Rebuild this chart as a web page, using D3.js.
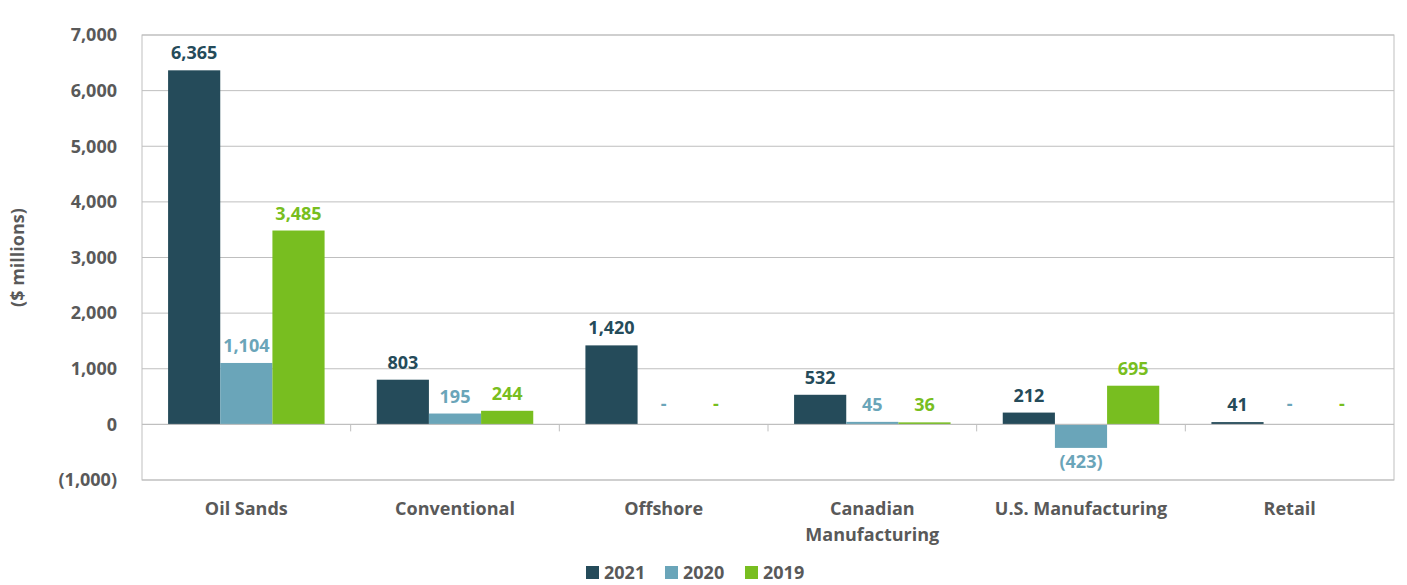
<!DOCTYPE html>
<html>
<head>
<meta charset="utf-8">
<script src="https://cdn.jsdelivr.net/npm/d3@7"></script>
<style>
  body { margin: 0; background: #fff; }
  svg text { font-family: "Open Sans", sans-serif; font-weight: 700; }
</style>
</head>
<body>
<div id="chart"></div>
<script>
const categories = ["Oil Sands", "Conventional", "Offshore", "Canadian Manufacturing", "U.S. Manufacturing", "Retail"];
const years = ["2021", "2020", "2019"];
const values2021 = [6365, 803, 1420, 532, 212, 41];
const values2020 = [1104, 195, 0, 45, -423, 0];
const values2019 = [3485, 244, 0, 36, 695, 0];
const yTicks = [-1000, 0, 1000, 2000, 3000, 4000, 5000, 6000, 7000];
const colors = ["#254b5a", "#6aa5b9", "#78be20"];

const width = 1407, height = 585;
const margin = { top: 35, right: 13, bottom: 105, left: 142 };
const innerW = width - margin.left - margin.right;
const innerH = height - margin.top - margin.bottom;

const seriesValues = [values2021, values2020, values2019];
const rows = categories.map((c, i) => ({
  cat: c,
  vals: years.map((y, j) => ({ year: y, v: seriesValues[j][i], color: colors[j] }))
}));

const svg = d3.select("#chart").append("svg")
  .attr("width", width)
  .attr("height", height);

const g = svg.append("g").attr("transform", `translate(${margin.left},${margin.top})`);

const x0 = d3.scaleBand().domain(categories).range([0, innerW]);
const x1 = d3.scaleBand().domain(years).range([0, x0.bandwidth()]).paddingInner(0).paddingOuter(0.5);
const y = d3.scaleLinear().domain([-1000, 7000]).range([innerH, 0]);

const num = d3.format(",");
const axisFmt = (v) => v < 0 ? `(${num(-v)})` : num(v);
const labelFmt = (v) => v === 0 ? "-" : axisFmt(v);

// Gridlines
g.append("g").selectAll("line")
  .data(yTicks)
  .join("line")
  .attr("x1", 0).attr("x2", innerW)
  .attr("y1", (d) => y(d)).attr("y2", (d) => y(d))
  .attr("stroke", "#bfbfbf");

// Frame
g.append("rect")
  .attr("width", innerW).attr("height", innerH)
  .attr("fill", "none")
  .attr("stroke", "#bfbfbf");

// Y axis labels
const yAxisG = g.append("g")
  .call(d3.axisLeft(y).tickValues(yTicks).tickSize(0).tickPadding(25).tickFormat(axisFmt));
yAxisG.select(".domain").remove();
yAxisG.selectAll(".tick text")
  .style("font-size", "18px")
  .attr("fill", "#595959");

// Y title
svg.append("text")
  .attr("transform", `translate(24,${margin.top + innerH / 2}) rotate(-90)`)
  .attr("text-anchor", "middle")
  .style("font-size", "18px")
  .attr("fill", "#595959")
  .text("($ millions)");

// Bars
const groups = g.append("g").selectAll("g")
  .data(rows)
  .join("g")
  .attr("transform", (d) => `translate(${x0(d.cat)},0)`);

groups.selectAll("rect")
  .data((d) => d.vals)
  .join("rect")
  .attr("x", (d) => x1(d.year))
  .attr("width", x1.bandwidth())
  .attr("y", (d) => y(Math.max(0, d.v)))
  .attr("height", (d) => Math.abs(y(d.v) - y(0)))
  .attr("fill", (d) => d.color);

groups.selectAll("text")
  .data((d) => d.vals)
  .join("text")
  .attr("x", (d) => x1(d.year) + x1.bandwidth() / 2)
  .attr("y", (d) => d.v < 0 ? y(d.v) + 20 : d.v === 0 ? y(0) - 14 : y(d.v) - 11)
  .attr("text-anchor", "middle")
  .style("font-size", "18px")
  .attr("fill", (d) => d.color)
  .text((d) => labelFmt(d.v));

// Zero line + category ticks
g.append("line")
  .attr("x1", 0).attr("x2", innerW)
  .attr("y1", y(0)).attr("y2", y(0))
  .attr("stroke", "#bfbfbf");

g.append("g").selectAll("line")
  .data(categories.slice(1))
  .join("line")
  .attr("x1", (d) => x0(d)).attr("x2", (d) => x0(d))
  .attr("y1", y(0)).attr("y2", y(0) + 7)
  .attr("stroke", "#bfbfbf");

// Category labels
const catG = g.append("g").selectAll("text")
  .data(categories)
  .join("text")
  .attr("x", (d) => x0(d) + x0.bandwidth() / 2)
  .attr("y", innerH + 35)
  .attr("text-anchor", "middle")
  .style("font-size", "18px")
  .attr("fill", "#595959");

catG.each(function (d) {
  const t = d3.select(this);
  const lines = d === "Canadian Manufacturing" ? ["Canadian", "Manufacturing"] : [d];
  lines.forEach((l, i) => {
    t.append("tspan")
      .attr("x", x0(d) + x0.bandwidth() / 2)
      .attr("dy", i === 0 ? 0 : 26)
      .text(l);
  });
});

// Legend
const legendX = [586, 665, 745];
const legend = svg.append("g").selectAll("g")
  .data(years)
  .join("g")
  .attr("transform", (d, i) => `translate(${legendX[i]},566)`);

legend.append("rect")
  .attr("width", 13).attr("height", 13)
  .attr("fill", (d, i) => colors[i]);

legend.append("text")
  .attr("x", 18).attr("y", 13)
  .style("font-size", "18px")
  .attr("fill", "#595959")
  .text((d) => d);
</script>
</body>
</html>
